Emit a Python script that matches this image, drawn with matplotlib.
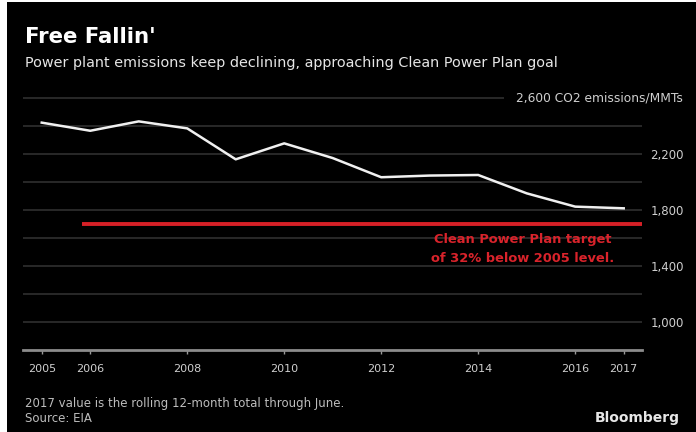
import matplotlib.pyplot as plt
from matplotlib.patches import Rectangle
import matplotlib.transforms as mtransforms

# annual power plant CO2 emissions (million metric tons)
years = [2005, 2006, 2007, 2008, 2009, 2010, 2011, 2012, 2013, 2014, 2015, 2016, 2017]
emissions = [2424, 2366, 2433, 2383, 2162, 2276, 2171, 2034, 2046, 2050, 1919, 1824, 1812]

# Clean Power Plan target line
target = 1700
target_start = 2005.83

xtick_years = [2005, 2006, 2008, 2010, 2012, 2014, 2016, 2017]
ygrid = [1000, 1200, 1400, 1600, 1800, 2000, 2200, 2400, 2600]
ylabels = ['1,000', '', '1,400', '', '1,800', '', '2,200', '', '']

W, H = 696, 432
x_left, x_right = 2004.614, 2017.377
y_bottom, y_top = 800, 2615

fig = plt.figure(figsize=(W / 100, H / 100), dpi=100, facecolor='white')
fig.patches.append(Rectangle((7 / W, 0), 1, (H - 2) / H, transform=fig.transFigure,
                             facecolor='black', edgecolor='none', zorder=-1))

ax = fig.add_axes([23 / W, 82 / H, 619 / W, 254.1 / H])
ax.set_facecolor('black')
ax.set_xlim(x_left, x_right)
ax.set_ylim(y_bottom, y_top)
ax.set_axisbelow(True)

for side in ['top', 'left', 'right']:
    ax.spines[side].set_visible(False)
ax.spines['bottom'].set_color('#8c8c8c')
ax.spines['bottom'].set_linewidth(2)

ax.set_xticks(xtick_years)
ax.set_xticklabels([str(y) for y in xtick_years])
ax.tick_params(axis='x', length=3, width=1, color='#9a9a9a', pad=7,
               labelsize=8, labelcolor='#cfcfcf')

ax.yaxis.tick_right()
ax.set_yticks(ygrid)
ax.set_yticklabels(ylabels)
ax.tick_params(axis='y', length=0, pad=6, labelsize=8.5, labelcolor='#cfcfcf')
ax.grid(axis='y', color='#303030', linewidth=1.2)

# emissions line and target
ax.plot(years, emissions, color='#f0f0f0', linewidth=1.8, solid_joinstyle='round', zorder=4)
ax.hlines(target, target_start, x_right, color='#d62027', linewidth=2.8, zorder=3)
ax.text(2014.92, 1521, 'Clean Power Plan target\nof 32% below 2005 level.',
        color='#d9232b', fontsize=9.4, fontweight='heavy', ha='center', va='center',
        linespacing=1.55)

# unit label on top gridline
trans = mtransforms.blended_transform_factory(ax.transAxes, ax.transData)
ax.text((683 - 23) / 619, 2600, '2,600 CO2 emissions/MMTs', transform=trans,
        ha='right', va='center', fontsize=8.8, color='#cfcfcf', zorder=5,
        bbox=dict(boxstyle='square,pad=1.0', facecolor='black', edgecolor='none'))

# titles
fig.text(25 / W, 1 - 43.3 / H, "Free Fallin'", fontsize=15.3, fontweight='bold',
         color='white', va='baseline')
fig.text(25 / W, 1 - 66.5 / H,
         'Power plant emissions keep declining, approaching Clean Power Plan goal',
         fontsize=10.4, color='#e6e6e6', va='baseline')

# footer
fig.text(25 / W, 1 - 407 / H, '2017 value is the rolling 12-month total through June.',
         fontsize=8.5, color='#bdbdbd', va='baseline')
fig.text(25 / W, 1 - 422 / H, 'Source: EIA', fontsize=8.5, color='#bdbdbd', va='baseline')
fig.text(680 / W, 1 - 422 / H, 'Bloomberg', fontsize=10, fontweight='bold',
         color='#e6e6e6', ha='right', va='baseline')

fig.savefig('out.png', dpi=100, facecolor=fig.get_facecolor())
